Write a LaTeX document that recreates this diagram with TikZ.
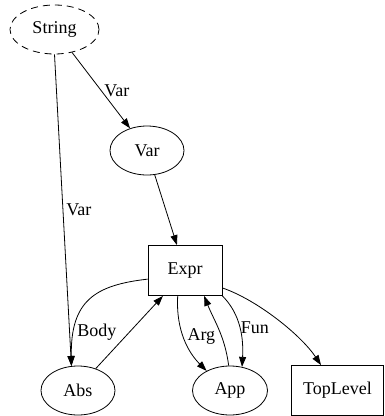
\documentclass[tikz,border=0pt]{standalone}
\usepackage{fontspec}
\setmainfont{Liberation Serif}
\newfontfamily\gvfont{Liberation Serif}
\usetikzlibrary{shapes.geometric,arrows.meta}
\tikzset{
	every picture/.style={/utils/exec={\gvfont\fontsize{18}{22}\selectfont}},
	oval/.style={draw, ellipse, inner sep=0pt, minimum width=74pt, minimum height=49pt},
	box/.style={draw, rectangle, inner sep=0pt, minimum height=50pt},
	arc/.style={-{Stealth[inset=0pt,length=10pt,width=7pt]}},
	lbl/.style={right, inner sep=1pt}
}

\begin{document}
\begin{tikzpicture}[x=1pt, y=-1pt, line width=0.8pt]
		\useasboundingbox (0,0) rectangle (384,416);

		\node[oval, dashed, dash pattern=on 7pt off 5pt, minimum width=89pt] (string) at (54.5, 29.5) {String};
		\node[oval] (var) at (147, 150.5) {Var};
		\node[box, minimum width=74pt] (expr) at (185, 270.5) {Expr};
		\node[oval] (abs) at (78, 390.5) {Abs};
		\node[oval, minimum width=75pt] (app) at (230, 390.5) {App};
		\node[box, minimum width=92pt] (toplevel) at (337.5, 390.5) {TopLevel};

		\draw[arc] (string) -- node[lbl, xshift=2pt] {Var} (var);
		\draw[arc] (string.south) -- node[lbl, xshift=2pt] {Var} (abs.105);
		\draw[arc] (var) -- (expr);

		\draw[arc] (expr.193) .. controls +(-53,6) and +(-1,-65) .. node[lbl, pos=0.8, xshift=2pt] {Body} (abs.105);
		\draw[arc] (abs.51) -- (expr.229);

		\draw[arc] (expr.254) .. controls +(-2,35) and +(-18,-18) .. node[lbl, pos=0.45, xshift=3pt] {Arg} (app.140);
		\draw[arc] (app.93) .. controls +(-4,-30) and +(10,25) .. (expr.307);
		\draw[arc] (expr.south east) .. controls +(15,15) and +(2,-35) .. node[lbl, pos=0.55] {Fun} (app.63);

		\draw[arc] (expr.335) .. controls +(35,12) and +(-20,-30) .. (toplevel.123);
	\end{tikzpicture}
\end{document}
